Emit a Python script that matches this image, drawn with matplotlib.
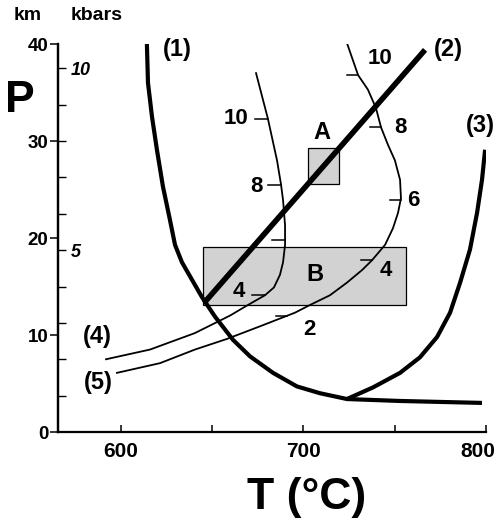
import numpy as np
import matplotlib
matplotlib.use("Agg")
import matplotlib.pyplot as plt
import matplotlib.patches as mpatches

plt.rcParams['font.family'] = ['Liberation Sans', 'DejaVu Sans']
plt.rcParams['font.weight'] = 'bold'

#%% data (T in degC, P in km)
c1_T = [614.2, 614.8, 617.0, 619.7, 623.0, 626.8, 629.6, 633.4, 638.9, 644.4, 651.5, 661.4,
        670.7, 683.3, 696.4, 709.0, 723.8, 752.9, 797.8]
c1_P = [40.0, 36.0, 32.5, 29.1, 25.3, 21.9, 19.3, 17.5, 15.7, 13.9, 11.9, 9.5,
        7.8, 6.1, 4.7, 4.0, 3.4, 3.2, 3.0]

c3_T = [723.8, 738.1, 752.9, 763.8, 773.2, 780.3, 785.8, 791.2, 795.1, 797.8, 799.5]
c3_P = [3.4, 4.6, 6.1, 7.7, 9.8, 12.3, 15.4, 18.8, 22.6, 26.0, 29.1]

c2_T = [645.5, 766.6]
c2_P = [13.3, 39.4]

c4_T = [591.8, 615.9, 640.5, 659.7, 669.6, 678.9, 683.8, 687.1, 688.8, 689.9, 689.9, 688.8, 687.7, 685.5, 680.5, 674.0]
c4_P = [7.5, 8.5, 10.2, 12.0, 13.1, 14.1, 14.9, 16.2, 17.5, 19.3, 21.3, 23.9, 25.5, 28.0, 32.3, 37.0]

c5_T = [597.8, 621.4, 640.5, 658.1, 676.2, 695.3, 703.6, 714.5, 723.8, 732.1, 737.5, 744.7,
        749.0, 751.8, 753.4, 752.9, 750.1, 746.3, 742.5, 739.7, 735.3, 729.9, 723.8]
c5_P = [6.1, 7.1, 8.5, 9.6, 10.9, 12.3, 13.1, 14.1, 15.4, 16.7, 17.7, 19.3,
        21.0, 22.6, 24.1, 26.0, 28.0, 29.6, 31.4, 33.4, 35.3, 36.8, 40.1]

# kbar ticks along the thin curves
c4_tick_P = [14.1, 19.8, 25.5, 32.3]
c4_tick_lab = ['4', '', '8', '10']
c5_tick_P = [12.0, 17.7, 23.9, 31.4, 36.8]
c5_tick_lab = ['2', '4', '6', '8', '10']

boxA_T = [702.5, 719.5]
boxA_P = [25.6, 29.3]
boxB_T = [644.9, 756.2]
boxB_P = [13.1, 19.1]

x_ticks = [600, 700, 800]
y_ticks = [0, 10, 20, 30, 40]
km_per_kbar = 3.75

#%% figure
fig = plt.figure(figsize=(4.97, 5.21), dpi=100)
ax = fig.add_axes([0.1167, 0.1708, 0.8612, 0.7447])
ax.set_xlim(565.5, 800)
ax.set_ylim(0, 40)

for (t, p) in [(boxA_T, boxA_P), (boxB_T, boxB_P)]:
    ax.add_patch(mpatches.Rectangle((t[0], p[0]), t[1] - t[0], p[1] - p[0],
                                    facecolor='#d2d2d2', edgecolor='black', lw=0.9, zorder=1))

ax.plot(c1_T, c1_P, color='black', lw=3.0, solid_capstyle='butt', solid_joinstyle='round', zorder=3)
ax.plot(c3_T, c3_P, color='black', lw=3.0, solid_capstyle='butt', solid_joinstyle='round', zorder=3)
ax.plot(c2_T, c2_P, color='black', lw=4.0, solid_capstyle='butt', zorder=4)
ax.plot(c4_T, c4_P, color='black', lw=1.3, solid_joinstyle='round', zorder=2)
ax.plot(c5_T, c5_P, color='black', lw=1.3, solid_joinstyle='round', zorder=2)

# ticks on thin curves
off4 = [(-19, 3), (0, 0), (-18, -1), (-23, 0)]
off5 = [(16, -10), (10, -7), (9, 0), (14, 0), (16, 12)]
for P, lab, off in zip(c4_tick_P, c4_tick_lab, off4):
    T = np.interp(P, c4_P, c4_T)
    ax.plot([T - 7, T], [P, P], color='black', lw=1.1, zorder=2)
    if lab:
        ax.annotate(lab, (T, P), xytext=off, textcoords='offset points',
                    ha='center', va='center', fontsize=16)
for P, lab, off in zip(c5_tick_P, c5_tick_lab, off5):
    T = np.interp(P, c5_P, c5_T)
    ax.plot([T - 6, T], [P, P], color='black', lw=1.1, zorder=2)
    ax.annotate(lab, (T, P), xytext=off, textcoords='offset points',
                ha='center', va='center', fontsize=16)

# curve labels
ax.text(630.7, 39.4, '(1)', fontsize=17, ha='center', va='center')
ax.text(779.2, 39.4, '(2)', fontsize=17, ha='center', va='center')
ax.text(796.7, 31.6, '(3)', fontsize=17, ha='center', va='center', clip_on=False)
ax.text(586.8, 9.8, '(4)', fontsize=17, ha='center', va='center')
ax.text(587.4, 5.1, '(5)', fontsize=17, ha='center', va='center')
ax.text(710.1, 30.9, 'A', fontsize=17, ha='center', va='center')
ax.text(706.3, 16.2, 'B', fontsize=17, ha='center', va='center')

# axes styling
for s in ['top', 'right']:
    ax.spines[s].set_visible(False)
for s in ['left', 'bottom']:
    ax.spines[s].set_linewidth(1.6)
ax.set_xticks(x_ticks)
ax.set_xticklabels([str(v) for v in x_ticks[:-1]] + [''])
# last label sits a bit left of its tick in the original
ax.annotate(str(x_ticks[-1]), (x_ticks[-1], 0), xytext=(-6, -7), textcoords='offset points',
            ha='center', va='top', fontsize=15, annotation_clip=False)
ax.set_xticks([650, 750], minor=True)
ax.set_yticks(y_ticks)
ax.tick_params(axis='x', which='both', direction='in', length=5, width=1.1, pad=7, labelsize=15)
ax.tick_params(axis='y', direction='out', length=6, width=1.1, pad=1, labelsize=13.5)

ax2 = ax.twinx()
ax2.set_ylim(0, 40 / km_per_kbar)
ax2.spines['right'].set_position(('axes', 0))
ax2.spines['right'].set_linewidth(1.6)
for s in ['top', 'left', 'bottom']:
    ax2.spines[s].set_visible(False)
kb = list(range(1, 11))
ax2.set_yticks(kb)
ax2.set_yticklabels(['5' if k == 5 else '10' if k == 10 else '' for k in kb],
                    fontstyle='italic', fontsize=13)
ax2.tick_params(axis='y', direction='out', length=6, width=1.0, pad=3)

fig.text(28 / 497, 1 - 16 / 521, 'km', fontsize=14, ha='center', va='center')
fig.text(97 / 497, 1 - 16 / 521, 'kbars', fontsize=14, ha='center', va='center')
fig.text(20 / 497, 1 - 100 / 521, 'P', fontsize=32, ha='center', va='center')
fig.text(307 / 497, 1 - 497 / 521, 'T (°C)', fontsize=32, ha='center', va='center')

fig.savefig('out.png', dpi=100)
